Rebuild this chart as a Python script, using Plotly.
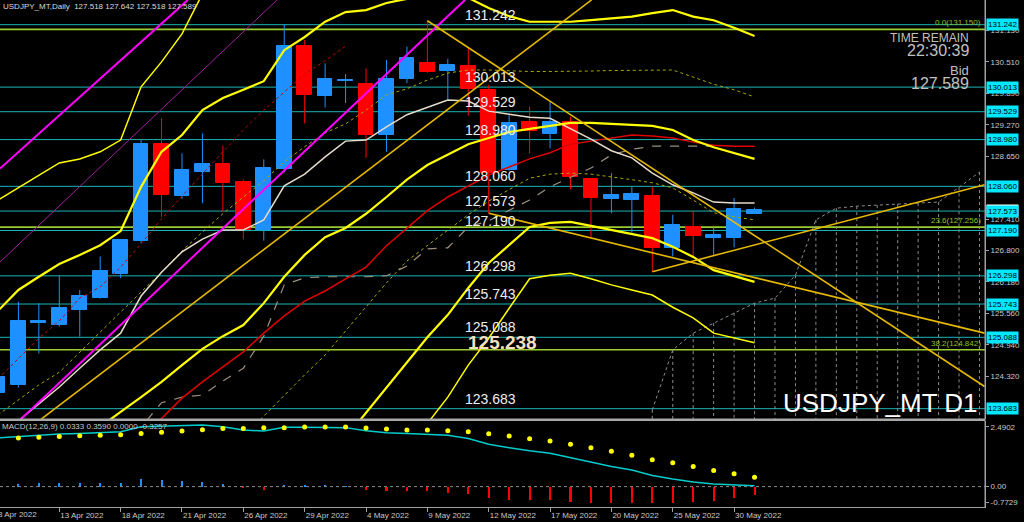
import plotly.graph_objects as go

# ---------------- data ----------------
bar_dates = ["8 Apr", "11 Apr", "12 Apr", "13 Apr", "14 Apr", "15 Apr", "18 Apr", "19 Apr",
             "20 Apr", "21 Apr", "22 Apr", "25 Apr", "26 Apr", "27 Apr", "28 Apr", "29 Apr",
             "2 May", "3 May", "4 May", "5 May", "6 May", "9 May", "10 May", "11 May", "12 May",
             "13 May", "16 May", "17 May", "18 May", "19 May", "20 May", "23 May", "24 May",
             "25 May", "26 May", "27 May", "30 May", "31 May"]
bar_idx = list(range(len(bar_dates)))

opens = [123.99, 124.14, 125.37, 125.33, 125.63, 125.86, 126.34, 126.98, 128.89, 127.86,
         128.35, 128.49, 128.14, 127.21, 128.40, 130.82, 129.84, 130.13, 130.08, 129.08,
         130.17, 130.48, 130.34, 130.42, 129.96, 128.38, 129.32, 129.10, 129.33, 128.20,
         127.81, 127.79, 127.86, 126.85, 127.25, 127.04, 127.04, 127.518]
highs = [124.40, 125.79, 125.76, 126.31, 126.02, 126.68, 127.01, 128.97, 129.40, 128.71,
         129.10, 128.86, 128.19, 128.59, 131.25, 130.94, 130.48, 130.27, 130.38, 130.55,
         130.81, 131.32, 130.57, 130.79, 130.06, 129.46, 129.63, 129.73, 129.43, 128.21,
         128.32, 128.05, 128.05, 127.50, 127.58, 127.25, 127.83, 127.642]
lows = [123.90, 124.10, 124.77, 125.30, 125.10, 125.85, 126.25, 126.94, 127.46, 127.81,
        127.73, 127.56, 127.02, 126.99, 128.33, 129.30, 129.61, 129.70, 128.62, 128.74,
        130.09, 130.30, 129.77, 129.45, 127.53, 128.37, 128.71, 128.81, 128.00, 127.06,
        127.53, 127.15, 126.38, 126.68, 126.68, 126.69, 126.86, 127.518]
closes = [124.31, 125.41, 125.40, 125.66, 125.90, 126.39, 127.00, 128.89, 127.89, 128.38,
          128.49, 128.13, 127.21, 128.43, 130.83, 129.86, 130.17, 130.15, 129.08, 130.17,
          130.59, 130.32, 130.44, 129.97, 128.32, 129.30, 129.14, 129.33, 128.25, 127.84,
          127.89, 127.90, 126.85, 127.30, 127.09, 127.10, 127.61, 127.589]

# Bollinger-type bands
bb_p3 = [127.79, 128.03, 128.28, 128.52, 128.60, 128.74, 128.97, 130.02, 130.51, 131.06,
         131.85] + [None] * 27
bb_p2 = [125.61, 126.02, 126.28, 126.53, 126.71, 126.90, 127.18, 128.05, 128.74, 129.07,
         129.56, 129.80, 129.96, 130.13, 130.74, 131.00, 131.30, 131.49, 131.53, 131.67,
         131.75, 131.89, 131.93, 131.77, 131.57, 131.41, 131.30, 131.30, 131.30, 131.33,
         131.37, 131.40, 131.47, 131.53, 131.40, 131.33, 131.18, 131.02]
bb_p1 = [123.56, 123.85, 124.15, 124.40, 124.80, 125.19, 125.59, 125.98, 126.37, 126.79,
         127.16, 127.52, 127.85, 128.17, 128.54, 128.84, 129.11, 129.29, 129.56, 129.86,
         129.98, 130.15, 130.29, 130.35, 130.35, 130.33, 130.32, 130.32, 130.32, 130.33,
         130.34, 130.34, 130.35, 130.35, 130.21, 130.07, 129.96, 129.82]
bb_mid = [None] * 3 + [122.73, 123.03, 123.32, 123.62, 123.91, 124.21, 124.54, 124.86, 125.11,
                       125.33, 125.76, 126.28, 126.71, 127.06, 127.24, 127.52, 127.85, 128.19,
                       128.48, 128.68, 128.89, 129.01, 129.13, 129.19, 129.25, 129.31, 129.31,
                       129.29, 129.27, 129.25, 129.17, 128.97, 128.83, 128.72, 128.60]
bb_m1 = [None] * 12 + [123.13, 123.54, 123.95, 124.35, 124.74, 125.21, 125.68, 126.16, 126.59,
                       126.89, 127.20, 127.50, 127.77, 128.00, 128.22, 128.30, 128.32, 128.30,
                       128.25, 128.19, 128.13, 128.03, 127.79, 127.54, 127.46, 127.40]
bb_m2 = [None] * 16 + [122.61, 123.11, 123.60, 124.11, 124.60, 125.09, 125.53, 126.06, 126.55,
                       126.90, 127.26, 127.34, 127.36, 127.28, 127.20, 127.12, 127.04, 126.87,
                       126.67, 126.41, 126.30, 126.18]
bb_m3 = [None] * 20 + [122.87, 123.40, 123.91, 124.54, 125.07, 125.66, 126.24, 126.31, 126.35,
                       126.24, 126.12, 126.02, 125.92, 125.68, 125.47, 125.17, 125.07, 124.98]

ma_red = [None] * 7 + [123.09, 123.50, 123.89, 124.21, 124.50, 124.80, 125.17, 125.51, 125.80,
                       126.00, 126.24, 126.47, 126.89, 127.24, 127.58, 127.85, 128.07, 128.28,
                       128.44, 128.60, 128.72, 128.89, 128.95, 129.01, 129.07, 129.05, 129.01,
                       128.93, 128.87, 128.85, 128.85]
red_dotted = [124.27, 124.68, 125.07, 125.41, 125.86, 126.08, 126.47, 126.93, 127.42, 127.87,
              128.30, 128.74, 129.17, 129.56, 129.92, 130.27, 130.53, 130.82] + [None] * 20
tenkan = [123.11, 123.44, 123.78, 124.11, 124.48, 124.84, 125.17, 125.90, 126.37, 126.77,
          127.02, 127.20, 127.20, 127.40, 128.07, 128.30, 128.64, 128.95, 128.97, 129.23,
          129.47, 129.62, 129.76, 129.74, 129.54, 129.48, 129.42, 129.40, 129.19, 128.99,
          128.76, 128.62, 128.32, 128.09, 127.93, 127.75, 127.73, 127.73]
kijun = [None] * 6 + [122.97, 123.32, 123.80, 123.91, 123.95, 124.23, 124.48, 125.11, 126.12,
                      126.26, 126.28, 126.28, 126.28, 126.30, 126.49, 126.83, 126.85, 127.26,
                      127.38, 127.59, 127.79, 128.05, 128.24, 128.42, 128.68, 128.79, 128.85,
                      128.85, 128.85, 128.85] + [None] * 2

cloud_idx = list(range(32, 49))
cloud_span_a = [123.66, 124.84, 125.17, 125.37, 125.57, 125.76, 125.86, 126.31, 127.40, 127.63,
                127.67, 127.69, 127.71, 127.73, 127.75, 128.04, 128.34]
cloud_span_b = [123.30, 123.30, 123.30, 123.30, 123.30, 123.30, 123.30, 123.30, 123.30, 123.30,
                123.30, 123.30, 123.30, 123.30, 123.30, 123.30, 123.30]

# trend lines: (bar index, price) end points
magenta_upper = ([0.10, 9.29], [128.41, 131.73])
magenta_lower = ([1.08, 22.84], [123.46, 131.73])
purple_line = ([0.10, 13.65], [126.57, 131.73])
gold_line1 = ([2.06, 29.03], [123.46, 131.73])
gold_line2 = ([21.0, 48.25], [131.32, 124.12])
gold_line3 = ([24.0, 48.25], [127.53, 125.17])
gold_line4 = ([32.0, 48.25], [126.38, 128.09])

# horizontal levels
cyan_levels = [131.242, 130.013, 129.529, 128.980, 128.060, 127.573, 127.190, 126.298,
               125.743, 125.088, 123.683]
fib_levels = [131.150, 127.256, 124.842]
fib_labels = ["0.0(131.150)", "23.6(127.256)", "38.2(124.842)"]
pivot_value = 125.238
bid_price = 127.589

# axes ticks
price_ticks = [131.130, 130.510, 129.890, 129.270, 128.650, 127.410, 126.800, 126.180,
               125.560, 124.940, 124.320]
price_tick_text = ["131.130", "130.510", "129.890", "129.270", "128.650", "127.410",
                   "126.800", "126.180", "125.560", "124.940", "124.320"]
date_tick_idx = [3, 6, 9, 12, 15, 18, 21, 24, 27, 30, 33, 36]
date_tick_text = ["13 Apr 2022", "18 Apr 2022", "21 Apr 2022", "26 Apr 2022", "29 Apr 2022",
                  "4 May 2022", "9 May 2022", "12 May 2022", "17 May 2022", "20 May 2022",
                  "25 May 2022", "30 May 2022"]
first_date_label = "8 Apr 2022"

# MACD(12,26,9)
macd_line = [1.85, 1.90, 1.96, 2.00, 2.02, 2.05, 2.08, 2.27, 2.30, 2.33, 2.34, 2.27, 2.15, 2.11,
             2.25, 2.25, 2.25, 2.24, 2.12, 2.05, 2.02, 1.99, 1.95, 1.83, 1.61, 1.48, 1.36, 1.27,
             1.10, 0.91, 0.76, 0.63, 0.42, 0.29, 0.18, 0.10, 0.08, 0.0333]
macd_signal = [None, 1.85, 1.87, 1.90, 1.93, 1.95, 1.97, 2.02, 2.06, 2.11, 2.16, 2.21, 2.21,
               2.24, 2.24, 2.26, 2.26, 2.26, 2.23, 2.19, 2.15, 2.15, 2.12, 2.08, 2.01, 1.92,
               1.82, 1.73, 1.61, 1.48, 1.34, 1.19, 1.02, 0.91, 0.76, 0.61, 0.49, 0.359]
macd_hist = [None, 0.10, 0.15, 0.15, 0.13, 0.13, 0.15, 0.28, 0.26, 0.23, 0.19, 0.10, -0.04,
             -0.13, 0.04, 0.03, 0.03, 0.02, -0.13, -0.15, -0.15, -0.15, -0.23, -0.28, -0.44,
             -0.50, -0.50, -0.50, -0.57, -0.63, -0.63, -0.61, -0.63, -0.61, -0.57, -0.53,
             -0.44, -0.3257]
macd_scale_max = 2.4902
macd_scale_min = -0.7729
macd_ticks = [2.27, 0.0, -0.61]          # label anchor positions as drawn by the terminal
macd_tick_text = ["2.4902", "0.00", "-0.7729"]

# ---------------- styling ----------------
FONT = "Liberation Sans, Arial, sans-serif"
BLUE = "#1e90ff"
RED = "#ff0000"
AXIS_GRAY = "#a0a0a0"
TXT_GRAY = "#c8c8c8"

fig = go.Figure()

# Ichimoku-like cloud (vertical dotted hatching + top span)
cx, cy = [], []
for k, i in enumerate(cloud_idx):
    cx += [i, i, None]
    cy += [cloud_span_a[k], cloud_span_b[k], None]
fig.add_trace(go.Scatter(x=cx, y=cy, mode="lines", line=dict(color="#8c8c8c", width=1, dash="dot"),
                         hoverinfo="skip"))
fig.add_trace(go.Scatter(x=cloud_idx, y=cloud_span_a, mode="lines",
                         line=dict(color="#8c8c8c", width=1, dash="dot"), hoverinfo="skip"))

# candles
up = [i for i in bar_idx if closes[i] >= opens[i]]
dn = [i for i in bar_idx if closes[i] < opens[i]]
for sel, col in ((up, BLUE), (dn, RED)):
    wx, wy = [], []
    for i in sel:
        wx += [i, i, None]
        wy += [lows[i], highs[i], None]
    fig.add_trace(go.Scatter(x=wx, y=wy, mode="lines", line=dict(color=col, width=1),
                             hoverinfo="skip"))
    fig.add_trace(go.Bar(x=sel, base=[min(opens[i], closes[i]) for i in sel],
                         y=[abs(closes[i] - opens[i]) for i in sel], width=0.72,
                         marker=dict(color=col, line=dict(color=col, width=1)), hoverinfo="skip"))

def line(x, y, color, width, dash="solid"):
    fig.add_trace(go.Scatter(x=x, y=y, mode="lines", line=dict(color=color, width=width, dash=dash),
                             hoverinfo="skip"))

# indicators
line(bar_idx, bb_p1, "#a8a800", 1, "dot")
line(bar_idx, bb_m1, "#a8a800", 1, "dot")
line(bar_idx, kijun, "#9c9080", 1.2, "dash")
line(bar_idx, red_dotted, "#c00000", 1, "dot")
line(bar_idx, ma_red, "#e00000", 1.5)
line(bar_idx, tenkan, "#e6dccb", 1.5)
line(bar_idx, bb_p3, "#ffff00", 1.5)
line(bar_idx, bb_m3, "#ffff00", 1.5)
line(bar_idx, bb_p2, "#ffff00", 2.2)
line(bar_idx, bb_mid, "#ffff00", 2.2)
line(bar_idx, bb_m2, "#ffff00", 2.2)

# trend lines
line(*purple_line, "#a020a0", 1)
line(*magenta_upper, "#ff00ff", 2)
line(*magenta_lower, "#ff00ff", 2)
for gl in (gold_line1, gold_line2, gold_line3, gold_line4):
    line(*gl, "#e6b800", 1.6)

# MACD panel
fig.add_trace(go.Bar(x=bar_idx, y=[v if (v is not None and v >= 0) else None for v in macd_hist],
                     width=0.1, marker=dict(color=BLUE, line=dict(width=0)), yaxis="y2",
                     hoverinfo="skip"))
fig.add_trace(go.Bar(x=bar_idx, y=[v if (v is not None and v < 0) else None for v in macd_hist],
                     width=0.1, marker=dict(color=RED, line=dict(width=0)), yaxis="y2",
                     hoverinfo="skip"))
fig.add_trace(go.Scatter(x=bar_idx, y=macd_line, mode="lines", line=dict(color="#00cccc", width=1.5),
                         yaxis="y2", hoverinfo="skip"))
fig.add_trace(go.Scatter(x=bar_idx, y=macd_signal, mode="markers",
                         marker=dict(color="#ffff00", size=5), yaxis="y2", hoverinfo="skip"))

# ---------------- shapes ----------------
shapes = []
for lv in cyan_levels:
    shapes.append(dict(type="line", xref="paper", x0=0, x1=1, yref="y", y0=lv, y1=lv,
                       line=dict(color="#1ab4b4", width=1), layer="below"))
for lv in fib_levels:
    shapes.append(dict(type="line", xref="paper", x0=0, x1=1, yref="y", y0=lv, y1=lv,
                       line=dict(color="#9acd32", width=1.6), layer="below"))
shapes.append(dict(type="line", xref="paper", x0=0, x1=1, yref="y2", y0=0, y1=0,
                   line=dict(color="#8a8a8a", width=1, dash="dot")))
shapes.append(dict(type="line", xref="paper", x0=0, x1=1, yref="paper", y0=0.1722, y1=0.1722,
                   line=dict(color="#a8a8a8", width=2.5)))
shapes.append(dict(type="line", xref="paper", x0=1, x1=1, yref="paper", y0=0, y1=1,
                   line=dict(color=AXIS_GRAY, width=1)))

# ---------------- annotations ----------------
ann = []
for lv in cyan_levels:
    ann.append(dict(xref="paper", x=0.4701, y=lv, yref="y", xanchor="left", yanchor="bottom",
                    text=f"{lv:.3f}", showarrow=False,
                    font=dict(family=FONT, size=14, color="#eeeeee")))
ann.append(dict(xref="paper", x=0.473, y=pivot_value, yref="y", xanchor="left", yanchor="top",
                text=f"<b>{pivot_value:.3f}</b>", showarrow=False,
                font=dict(family=FONT, size=19, color="#f5dfc0")))
for lv, lab in zip(fib_levels, fib_labels):
    ann.append(dict(xref="paper", x=0.998, y=lv, yref="y", xanchor="right", yanchor="bottom",
                    text=lab, showarrow=False, font=dict(family=FONT, size=8, color="#8fc31f")))
# bid marker (mostly hidden) then level boxes on the price scale
ann.append(dict(xref="paper", x=1, xshift=1, y=bid_price, yref="y", xanchor="left",
                yanchor="middle", text=f"{bid_price:.3f}", showarrow=False, bgcolor="#ffffff",
                borderpad=1, font=dict(family=FONT, size=8, color="#000000")))
for lv in cyan_levels:
    ann.append(dict(xref="paper", x=1, xshift=1, y=lv, yref="y", xanchor="left",
                    yanchor="middle", text=f"{lv:.3f}", showarrow=False, bgcolor="#00e8ff",
                    borderpad=1, font=dict(family=FONT, size=8, color="#000000")))
ann += [
    dict(xref="paper", yref="paper", x=0.001, y=0.988, xanchor="left", yanchor="middle",
         text="USDJPY_MT,Daily  127.518 127.642 127.518 127.589", showarrow=False,
         font=dict(family=FONT, size=8, color="#dcdcdc")),
    dict(xref="paper", yref="paper", x=0.0, y=0.1578, xanchor="left", yanchor="middle",
         text="MACD(12,26,9) 0.0333 0.3590 0.0000 -0.3257", showarrow=False,
         font=dict(family=FONT, size=8, color="#c8c8c8")),
    dict(xref="paper", yref="paper", x=0.9858, y=0.9245, xanchor="right", yanchor="middle",
         text="TIME REMAIN", showarrow=False, font=dict(family=FONT, size=12, color="#c0c0c0")),
    dict(xref="paper", yref="paper", x=0.9858, y=0.9000, xanchor="right", yanchor="middle",
         text="22:30:39", showarrow=False, font=dict(family=FONT, size=16, color="#c0c0c0")),
    dict(xref="paper", yref="paper", x=0.9858, y=0.8619, xanchor="right", yanchor="middle",
         text="Bid", showarrow=False, font=dict(family=FONT, size=13, color="#c0c0c0")),
    dict(xref="paper", yref="paper", x=0.9858, y=0.8357, xanchor="right", yanchor="middle",
         text="127.589", showarrow=False, font=dict(family=FONT, size=16, color="#c0c0c0")),
    dict(xref="paper", yref="paper", x=0.995, y=0.2051, xanchor="right", yanchor="middle",
         text="USDJPY_MT D1", showarrow=False, font=dict(family=FONT, size=26, color="#ffffff")),
    dict(xref="paper", yref="paper", x=0, xshift=-4, y=-0.0144, xanchor="left", yanchor="middle",
         text=first_date_label, showarrow=False, font=dict(family=FONT, size=8, color=TXT_GRAY)),
]

fig.update_layout(
    width=1024, height=522, margin=dict(l=0, r=39, t=0, b=15),
    paper_bgcolor="#000000", plot_bgcolor="#000000", showlegend=False,
    barmode="overlay", bargap=0,
    xaxis=dict(domain=[0, 1], range=[0.10, 48.27], anchor="y2", showgrid=False, zeroline=False,
               tickmode="array", tickvals=date_tick_idx, ticktext=date_tick_text,
               ticks="outside", ticklen=4, tickcolor=AXIS_GRAY, ticklabelposition="outside right",
               tickfont=dict(family=FONT, size=8, color=TXT_GRAY), showline=True,
               linecolor=AXIS_GRAY, linewidth=1),
    yaxis=dict(domain=[0.1736, 1], range=[123.480, 131.728], side="right", anchor="x",
               showgrid=False, zeroline=False, tickmode="array", tickvals=price_ticks,
               ticktext=price_tick_text, ticks="outside", ticklen=3, tickcolor=AXIS_GRAY,
               tickfont=dict(family=FONT, size=8, color=TXT_GRAY), showline=True,
               linecolor=AXIS_GRAY, linewidth=1),
    yaxis2=dict(domain=[0, 0.1696], range=[macd_scale_min - 0.001, macd_scale_max + 0.001],
                side="right", anchor="x",
                showgrid=False, zeroline=False, tickmode="array", tickvals=macd_ticks,
                ticktext=macd_tick_text, ticks="outside", ticklen=3, tickcolor=AXIS_GRAY,
                tickfont=dict(family=FONT, size=8, color=TXT_GRAY), showline=True,
                linecolor=AXIS_GRAY, linewidth=1),
    shapes=shapes, annotations=ann,
)

fig.write_html("out.html", config={"displayModeBar": False},
               post_script="document.body.style.margin='0px';document.body.style.padding='0px';"
                           "document.documentElement.style.overflow='hidden';"
                           "document.body.style.background='#000000';")
